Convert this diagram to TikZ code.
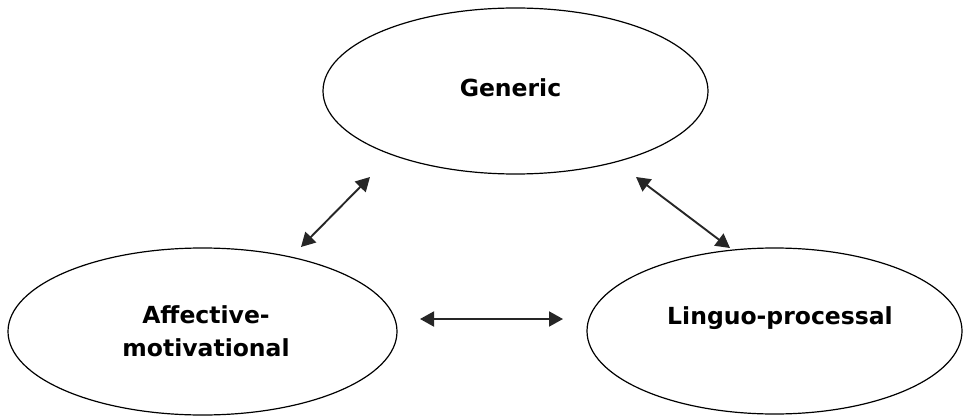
\documentclass[tikz,border=0pt]{standalone}
\usepackage{fontspec}
\setmainfont{DejaVu Sans}
\usetikzlibrary{shapes.geometric,arrows.meta}
\begin{document}
\begin{tikzpicture}[x=1pt,y=-1pt,
  oval/.style={ellipse,draw=black,line width=1.2pt,inner sep=0pt},
  label/.style={font=\fontsize{23.5}{33}\selectfont\bfseries,align=center,inner sep=0pt},
  link/.style={line width=1.9pt,draw=black!85,
    {Triangle[length=14pt,width=15pt]}-{Triangle[length=14pt,width=15pt]}}]
\useasboundingbox (0,0) rectangle (963,417);
\node[oval,minimum width=385pt,minimum height=166pt] (gen) at (515.5,91) {};
\node[oval,minimum width=389pt,minimum height=167pt] (aff) at (202.5,331.5) {};
\node[oval,minimum width=375pt,minimum height=166pt] (ling) at (774.5,331) {};
\node[label] (tg) at (510.5,88) {Generic};
\node[label] (ta) at (206,331) {Affective-\\motivational};
\node[label] (tl) at (780,318) {Linguo-processal};
\coordinate (a1) at (301,247);
\coordinate (a2) at (370,177);
\coordinate (b1) at (636,177);
\coordinate (b2) at (730,248);
\coordinate (c1) at (420,319);
\coordinate (c2) at (563,319);
\draw[link] (a1) -- (a2);
\draw[link] (b1) -- (b2);
\draw[link] (c1) -- (c2);
\end{tikzpicture}
\end{document}
